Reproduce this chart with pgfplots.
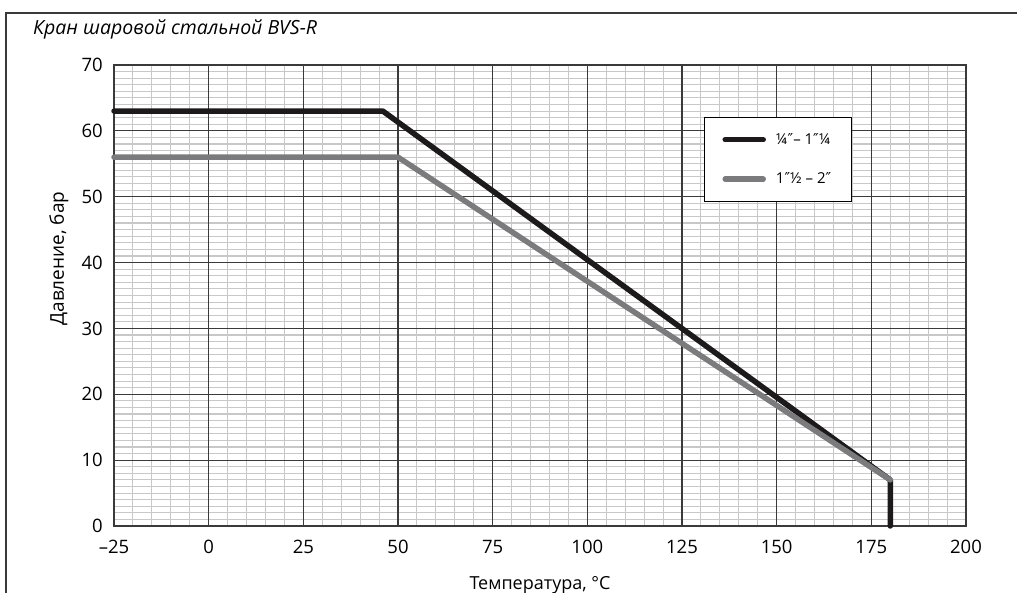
\documentclass[border=0pt]{standalone}
\usepackage{fontspec}
\setmainfont{Open Sans}
\newfontfamily\dv{DejaVu Sans}
\usepackage{pgfplots}
\pgfplotsset{compat=1.18}
\definecolor{serA}{HTML}{1C1A1B}
\definecolor{serB}{HTML}{7B7B7D}
\definecolor{gridmaj}{HTML}{3A3A3A}
\definecolor{gridmin}{HTML}{C8C8C8}
\begin{document}
\begin{tikzpicture}
\useasboundingbox (0pt,0pt) rectangle (1017pt,593pt);
% frame of the sheet
\draw[gridmaj, line width=1.3pt] (6pt,0pt) -- (6pt,580pt) -- (1017pt,580pt);
\node[anchor=base west, inner sep=0pt, font=\fontsize{19.5}{22}\selectfont\itshape]
  at (33pt,558pt) {Кран шаровой стальной BVS-R};
\begin{axis}[
    at={(114pt,67pt)}, anchor=south west,
    width=852pt, height=461pt, scale only axis,
    xmin=-25, xmax=200, ymin=0, ymax=70,
    xtick={-25,0,25,50,75,100,125,150,175,200},
    xticklabels={–25,0,25,50,75,100,125,150,175,200},
    ytick={0,10,20,30,40,50,60,70},
    minor x tick num=4, minor y tick num=9,
    grid=minor,
    minor grid style={gridmin, line width=1.1pt},
    % major grid drawn as extra ticks so that it lies over the minor grid
    extra x ticks={0,25,50,75,100,125,150,175},
    extra y ticks={10,20,30,40,50,60},
    extra x tick labels={}, extra y tick labels={},
    extra tick style={grid=major, major grid style={gridmaj, line width=1.2pt}},
    major tick length=0pt, minor tick length=0pt,
    axis line style={gridmaj, line width=1.3pt},
    /pgf/number format/assume math mode=true,
    tick label style={font=\fontsize{18.5}{22}\selectfont},
    xticklabel style={inner sep=0pt, anchor=north, yshift=-14pt},
    yticklabel style={inner sep=0pt, anchor=east, xshift=-11pt},
    xlabel={Температура, °C},
    ylabel={Давление, бар},
    xlabel style={at={(axis description cs:0.5,-0.1388)}, anchor=base, inner sep=0pt,
        font=\fontsize{18}{22}\selectfont},
    ylabel style={at={(axis description cs:-0.0587,0.58)}, anchor=base, inner sep=0pt,
        font=\fontsize{19}{22}\selectfont},
    clip=false,
    legend style={at={(axis cs:130.8,62.1)}, anchor=north west, draw=black,
        line width=1pt, fill=white, font=\fontsize{15}{17}\selectfont,
        inner xsep=18pt, inner ysep=14pt, row sep=23pt,
        /tikz/every odd column/.append style={column sep=8pt}},
    legend image code/.code={\draw[#1] (0pt,0pt) -- (38pt,0pt);},
    legend cell align=left,
]
\addplot[serA, line width=5.5pt, line cap=round, line join=round]
    coordinates {(-25,63) (46,63) (180,7) (180,0)};
\addlegendentry{¼{\dv ″}– 1{\dv ″}¼}
\addplot[serB, line width=5.5pt, line cap=round, line join=round]
    coordinates {(-25,56) (50,56) (180,7)};
\addlegendentry{1{\dv ″}½ – 2{\dv ″}}
\end{axis}
\end{tikzpicture}
\end{document}
